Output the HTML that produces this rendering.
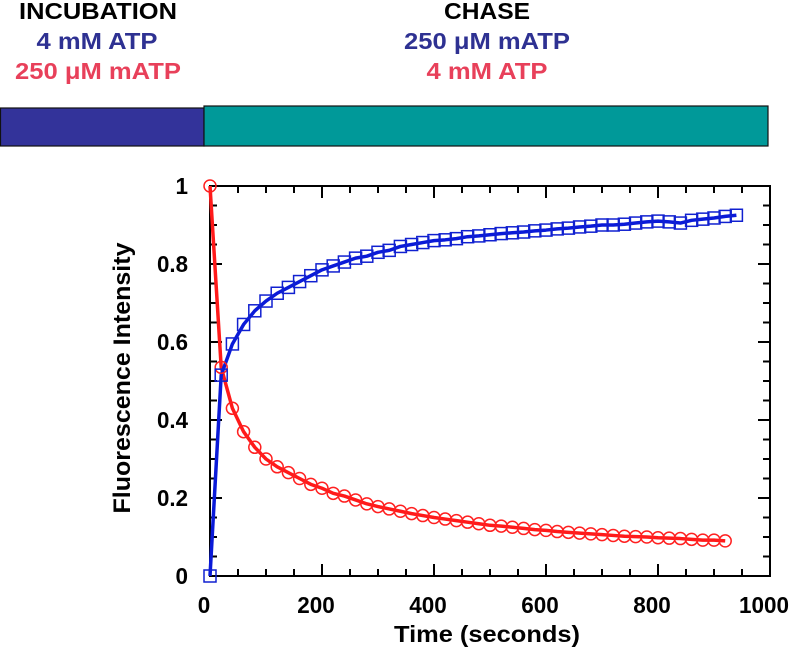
<!DOCTYPE html>
<html><head><meta charset="utf-8"><style>
body{margin:0;background:#fff;width:792px;height:653px;overflow:hidden}
svg{display:block;font-family:"Liberation Sans",Arial,sans-serif;font-weight:bold}
</style></head><body>
<svg id="chart" width="792" height="653">
<g>
<text x="98" y="19" font-size="23" text-anchor="middle" fill="#000" textLength="158" lengthAdjust="spacingAndGlyphs">INCUBATION</text>
<text x="97" y="49" font-size="23" text-anchor="middle" fill="#2e3192" textLength="121" lengthAdjust="spacingAndGlyphs">4 mM ATP</text>
<text x="98" y="79" font-size="23" text-anchor="middle" fill="#e8405a" textLength="166" lengthAdjust="spacingAndGlyphs">250 μM mATP</text>
<text x="487" y="19" font-size="23" text-anchor="middle" fill="#000" textLength="86" lengthAdjust="spacingAndGlyphs">CHASE</text>
<text x="487" y="49" font-size="23" text-anchor="middle" fill="#2e3192" textLength="166" lengthAdjust="spacingAndGlyphs">250 μM mATP</text>
<text x="487" y="79" font-size="23" text-anchor="middle" fill="#e8405a" textLength="121" lengthAdjust="spacingAndGlyphs">4 mM ATP</text>
<rect x="0.5" y="108" width="203.5" height="38" fill="#33339a" stroke="#111" stroke-width="1.2"/>
<rect x="204" y="106" width="564" height="40" fill="#009999" stroke="#111" stroke-width="1.2"/>
</g>
</svg>
<script>
const redTimes=[0,20,40,60,80,100,120,140,160,180,200,220,240,260,280,300,320,340,360,380,400,420,440,460,480,500,520,540,560,580,600,620,640,660,680,700,720,740,760,780,800,820,840,860,880,900,920];
const redValues=[1.0,0.535,0.43,0.37,0.33,0.30,0.28,0.265,0.25,0.235,0.225,0.212,0.205,0.195,0.185,0.178,0.172,0.166,0.16,0.155,0.15,0.146,0.142,0.138,0.134,0.13,0.128,0.125,0.122,0.119,0.117,0.114,0.112,0.11,0.108,0.106,0.104,0.102,0.101,0.1,0.098,0.097,0.096,0.094,0.092,0.092,0.09];
const blueTimes=[0,20,40,60,80,100,120,140,160,180,200,220,240,260,280,300,320,340,360,380,400,420,440,460,480,500,520,540,560,580,600,620,640,660,680,700,720,740,760,780,800,820,840,860,880,900,920,940];
const blueValues=[0,0.515,0.595,0.645,0.68,0.705,0.725,0.74,0.755,0.77,0.785,0.795,0.805,0.815,0.82,0.83,0.835,0.845,0.85,0.855,0.86,0.862,0.865,0.87,0.872,0.875,0.878,0.88,0.882,0.885,0.887,0.89,0.892,0.895,0.897,0.9,0.9,0.902,0.905,0.908,0.91,0.908,0.905,0.912,0.915,0.918,0.922,0.925];
const xTicks=[0,200,400,600,800,1000];
const yTicks=[0,0.2,0.4,0.6,0.8,1];
const yTickLabels=["0","0.2","0.4","0.6","0.8","1"];
const X0=210,X1=770,Y0=576,Y1=186;
function sx(v){return X0+(X1-X0)*v/1000;}
function sy(v){return Y0-(Y0-Y1)*v;}
const NS="http://www.w3.org/2000/svg";
const svg=document.getElementById('chart');
function mk(tag,attrs,parent){const e=document.createElementNS(NS,tag);for(const k in attrs)e.setAttribute(k,attrs[k]);(parent||svg).appendChild(e);return e;}
const frame=mk('rect',{x:X0,y:Y1,width:X1-X0,height:Y0-Y1,fill:'none',stroke:'#000','stroke-width':2});


const ticks=mk('g',{stroke:'#000','stroke-width':2});


for(let v=0;v<=1000;v+=50){const big=v%200===0,L=big?12:7;const x=sx(v);
mk('line',{x1:x,y1:Y0,x2:x,y2:Y0-L},ticks);mk('line',{x1:x,y1:Y1,x2:x,y2:Y1+L},ticks);}
for(let i=0;i<=20;i++){const v=i*0.05,big=i%4===0,L=big?12:7;const y=sy(v);
mk('line',{x1:X0,y1:y,x2:X0+L,y2:y},ticks);mk('line',{x1:X1,y1:y,x2:X1-L,y2:y},ticks);}
function tw(s){let w=0;for(const c of s)w+=(c==='.')?6:12.5;return w;}
xTicks.forEach(v=>{const s=String(v);const t=mk('text',{x:sx(v)-6,y:Y0+37,'font-size':23,'text-anchor':'middle',textLength:tw(s),lengthAdjust:'spacingAndGlyphs'});t.textContent=s;

});
yTicks.forEach((v,i)=>{const s=yTickLabels[i];const t=mk('text',{x:X0-22,y:sy(v)+8,'font-size':23,'text-anchor':'end',textLength:tw(s),lengthAdjust:'spacingAndGlyphs'});t.textContent=s;

});
const xt=mk('text',{x:487,y:642,'font-size':23,'text-anchor':'middle',textLength:186,lengthAdjust:'spacingAndGlyphs'});xt.textContent='Time (seconds)';


const yt=mk('text',{x:0,y:0,'font-size':24,'text-anchor':'middle',textLength:271,lengthAdjust:'spacingAndGlyphs',transform:'translate(130,378) rotate(-90)'});yt.textContent='Fluorescence Intensity';


function pts(ts,vs){return ts.map((t,i)=>sx(t)+','+sy(vs[i])).join(' ');}
const rl=mk('polyline',{points:pts(redTimes,redValues),fill:'none',stroke:'#ff1a1a','stroke-width':3.5,'stroke-linejoin':'round'});


const bl=mk('polyline',{points:pts(blueTimes,blueValues),fill:'none',stroke:'#0a1ad8','stroke-width':3.5,'stroke-linejoin':'round'});


redTimes.forEach((t,i)=>{const c=mk('circle',{cx:sx(t),cy:sy(redValues[i]),r:6,fill:'none',stroke:'#ff2020','stroke-width':1.5});

});
blueTimes.forEach((t,i)=>{const r=mk('rect',{x:sx(t)-6,y:sy(blueValues[i])-6,width:12,height:12,fill:'none',stroke:'#1020d0','stroke-width':1.5});

});
</script>
</body></html>
